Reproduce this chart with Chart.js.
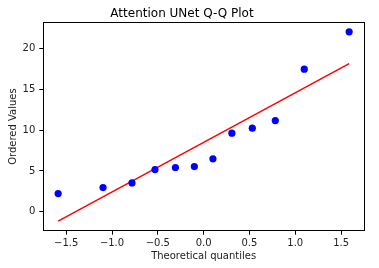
<!DOCTYPE html>
<html>
<head>
<meta charset="utf-8">
<script src="https://cdn.jsdelivr.net/npm/chart.js@4/dist/chart.umd.min.js"></script>
<style>
html,body{margin:0;padding:0;background:#fff;}
#wrap{width:379px;height:268px;position:relative;}
</style>
</head>
<body>
<div id="wrap"><canvas id="c" width="379" height="268"></canvas></div>
<script>
// Theoretical quantiles (x) and ordered values (y)
const quantiles = [-1.588, -1.098, -0.782, -0.531, -0.308, -0.1015, 0.1015, 0.308, 0.531, 0.782, 1.098, 1.588];
const orderedValues = [2.24, 2.97, 3.54, 5.17, 5.42, 5.54, 6.48, 9.62, 10.23, 11.16, 17.44, 22.0];
// Fit line endpoints
const fitX = [-1.588, 1.588];
const fitY = [-1.14, 18.11];
// Tick values and labels
const xTicks = [-1.5, -1.0, -0.5, 0.0, 0.5, 1.0, 1.5];
const xTickLabels = ['\u22121.5', '\u22121.0', '\u22120.5', '0.0', '0.5', '1.0', '1.5'];
const yTicks = [0, 5, 10, 15, 20];
const yTickLabels = ['0', '5', '10', '15', '20'];

const pts = quantiles.map((q, i) => ({x: q, y: orderedValues[i]}));
const line = fitX.map((q, i) => ({x: q, y: fitY[i]}));

const frame = {
  id: 'frame',
  afterDatasetsDraw(chart) {
    const a = chart.chartArea, ctx = chart.ctx;
    ctx.save();
    ctx.strokeStyle = '#000';
    ctx.lineWidth = 1;
    ctx.strokeRect(Math.round(a.left) + 0.5, Math.round(a.top) + 0.5, Math.round(a.right - a.left), Math.round(a.bottom - a.top));
    ctx.restore();
  }
};

const FONT = 'DejaVu Sans';
new Chart(document.getElementById('c'), {
  type: 'scatter',
  data: {
    datasets: [
      {
        type: 'line', data: line, borderColor: '#ff0000', borderWidth: 1.5,
        pointRadius: 0, fill: false, order: 2
      },
      {
        data: pts, backgroundColor: '#0000ff', borderColor: '#0000ff',
        pointRadius: 3.6, pointBorderWidth: 0, order: 1
      }
    ]
  },
  options: {
    responsive: false,
    animation: false,
    devicePixelRatio: 1,
    layout: {padding: {left: 0, right: 15, top: 0, bottom: 0}},
    plugins: {
      legend: {display: false},
      tooltip: {enabled: false},
      title: {
        display: true, text: 'Attention UNet Q-Q Plot', color: '#000',
        font: {family: FONT, size: 12, weight: 'normal'},
        padding: {top: 7, bottom: 1}
      }
    },
    scales: {
      x: {
        type: 'linear', min: -1.75, max: 1.75,
        afterBuildTicks: s => { s.ticks = xTicks.map(v => ({value: v})); },
        afterFit: s => { s.height = 37.3; },
        grid: {display: true, drawOnChartArea: false, drawTicks: true, tickLength: 4, color: '#000'},
        border: {display: true, color: '#000'},
        ticks: {
          color: '#222', font: {family: FONT, size: 10}, padding: 3, maxRotation: 0,
          callback: (v) => { const i = xTicks.indexOf(v); return i >= 0 ? xTickLabels[i] : ''; }
        },
        title: {display: true, text: 'Theoretical quantiles', color: '#222',
          font: {family: FONT, size: 10}, padding: {top: 0, bottom: 6}}
      },
      y: {
        type: 'linear', min: -2.3, max: 23.15,
        afterBuildTicks: s => { s.ticks = yTicks.map(v => ({value: v})); },
        afterFit: s => { s.width = 43.3; },
        grid: {display: true, drawOnChartArea: false, drawTicks: true, tickLength: 4, color: '#000'},
        border: {display: true, color: '#000'},
        ticks: {
          color: '#222', font: {family: FONT, size: 10}, padding: 4,
          callback: (v) => { const i = yTicks.indexOf(v); return i >= 0 ? yTickLabels[i] : ''; }
        },
        title: {display: true, text: 'Ordered Values', color: '#222',
          font: {family: FONT, size: 10}, padding: {top: 7, bottom: 0}}
      }
    }
  },
  plugins: [frame]
});
</script>
</body>
</html>
